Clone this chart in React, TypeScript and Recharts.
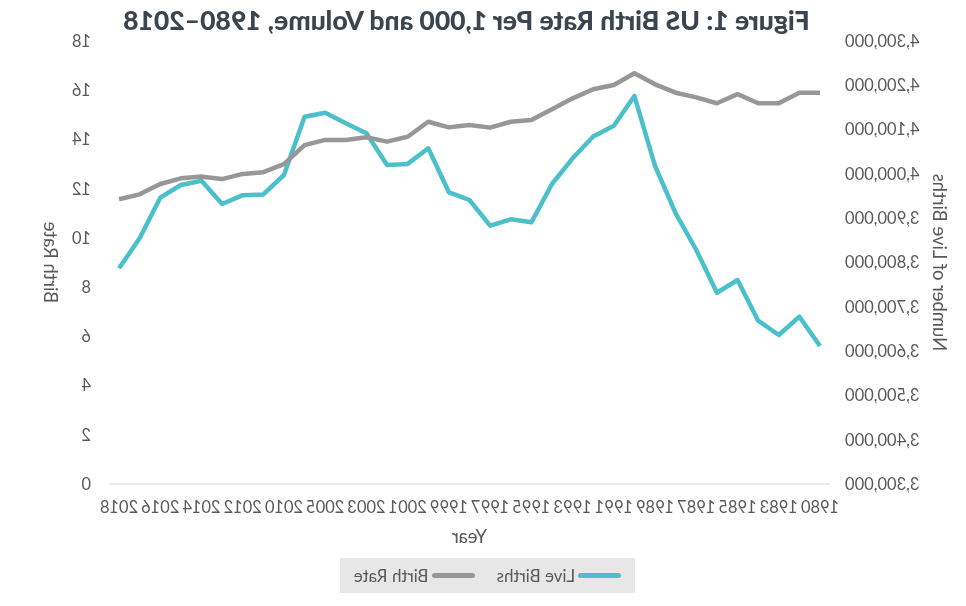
import React from 'react';
import { LineChart, Line, XAxis, YAxis } from 'recharts';

// the reference is a horizontally mirrored picture, so the chart is drawn normally and flipped
const years = [
  '1980', '1982', '1983', '1984', '1985', '1986', '1987', '1988', '1989', '1990',
  '1991', '1992', '1993', '1994', '1995', '1996', '1997', '1998', '1999', '2000',
  '2001', '2002', '2003', '2004', '2005', '2009', '2010', '2011', '2012', '2013',
  '2014', '2015', '2016', '2017', '2018',
];

const liveBirths = [
  3611500, 3677700, 3636300, 3668600, 3760500, 3731800, 3828200, 3911100, 4017800, 4175800,
  4108800, 4084400, 4035200, 3977200, 3890700, 3897500, 3883100, 3941100, 3958400, 4057800,
  4022600, 4020100, 4091600, 4114200, 4138100, 4129100, 3997500, 3953600, 3952000, 3932100,
  3984700, 3974900, 3946300, 3854600, 3786900,
];

const birthRate = [
  15.9, 15.9, 15.47, 15.47, 15.84, 15.47, 15.71, 15.9, 16.24, 16.69,
  16.21, 16.04, 15.67, 15.23, 14.79, 14.72, 14.48, 14.59, 14.49, 14.72,
  14.11, 13.91, 14.09, 13.98, 13.98, 13.77, 13.0, 12.67, 12.6, 12.39,
  12.49, 12.42, 12.19, 11.77, 11.57,
];

const birthTicks = [3300000, 3400000, 3500000, 3600000, 3700000, 3800000, 3900000, 4000000, 4100000, 4200000, 4300000];
const rateTicks = [0, 2, 4, 6, 8, 10, 12, 14, 16, 18];

const TEAL = '#4bc0cb';
const GREY = '#979797';
const FONT = 'Lato, "Open Sans", sans-serif';

const data = years.map((year, i) => ({ year, births: liveBirths[i], rate: birthRate[i] }));

const tickStyle = { fill: '#595959', fontSize: 16.5, fontFamily: FONT };
const titleStyle = { fill: '#595959', fontSize: 18.5, fontFamily: FONT };

const LegendItem = ({ color, text }: { color: string; text: string }) => (
  <div style={{ display: 'flex', alignItems: 'center' }}>
    <div style={{ width: 43, height: 5, borderRadius: 3, background: color, marginRight: 3 }} />
    <span>{text}</span>
  </div>
);

export default function App() {
  return (
    <div
      style={{
        position: 'fixed', left: 0, top: 0, width: 966, height: 606,
        background: '#fff', transform: 'scaleX(-1)', fontFamily: FONT, overflow: 'hidden',
      }}
    >
      <div
        style={{
          position: 'absolute', left: 0, top: 4, width: 999, textAlign: 'center',
          fontSize: 26.5, fontWeight: 900, color: '#3a4550', fontFamily: FONT,
        }}
      >
        Figure 1: US Birth Rate Per 1,000 and Volume, 1980–2018
      </div>

      <LineChart width={966} height={606} data={data} margin={{ top: 41, right: 0, bottom: 0, left: 0 }}>
        <XAxis
          dataKey="year"
          interval={1}
          height={122}
          padding={{ left: 10, right: 10 }}
          tickSize={0}
          tickMargin={17}
          tick={tickStyle}
          axisLine={{ stroke: '#d9d9d9', strokeWidth: 1 }}
          label={{ value: 'Year', position: 'insideTop', offset: 46, ...titleStyle }}
        />
        <YAxis
          yAxisId="births"
          width={136}
          domain={[3300000, 4300000]}
          ticks={birthTicks}
          interval={0}
          tickSize={0}
          tickMargin={15}
          axisLine={false}
          tick={tickStyle}
          tickFormatter={(v: number) => v.toLocaleString('en-US')}
          label={{ value: 'Number of Live Births', angle: -90, position: 'center', dx: -42, ...titleStyle }}
        />
        <YAxis
          yAxisId="rate"
          orientation="right"
          width={109}
          domain={[0, 18]}
          ticks={rateTicks}
          interval={0}
          tickSize={0}
          tickMargin={18}
          axisLine={false}
          tick={tickStyle}
          label={{ value: 'Birth Rate', angle: -90, position: 'center', dx: 4, ...titleStyle }}
        />
        <Line yAxisId="births" dataKey="births" stroke={TEAL} strokeWidth={4.5} dot={false} strokeLinejoin="round" isAnimationActive={false} />
        <Line yAxisId="rate" dataKey="rate" stroke={GREY} strokeWidth={4.5} dot={false} strokeLinejoin="round" isAnimationActive={false} />
      </LineChart>

      <div
        style={{
          position: 'absolute', left: 331, top: 558, width: 295, height: 35, background: '#e7e7e7',
          display: 'flex', alignItems: 'center', justifyContent: 'center', gap: 22,
          fontSize: 17, color: '#595959',
        }}
      >
        <LegendItem color={TEAL} text="Live Births" />
        <LegendItem color={GREY} text="Birth Rate" />
      </div>
    </div>
  );
}
